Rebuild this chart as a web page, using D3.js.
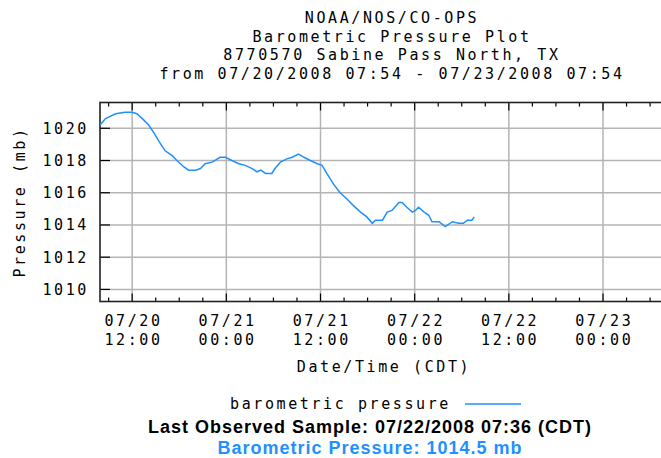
<!DOCTYPE html>
<html>
<head>
<meta charset="utf-8">
<script src="https://cdn.jsdelivr.net/npm/d3@7"></script>
<style>
  body { margin: 0; background: #fff; }
  .mono { font-family: "DejaVu Sans Mono", monospace; font-size: 15px; letter-spacing: 2.6px; fill: #000; }
  .info { font-family: "Liberation Sans", Arial, sans-serif; font-size: 18px; font-weight: bold; letter-spacing: 1px; }
</style>
</head>
<body>
<div id="chart"></div>
<script>
// observation times (2008, CDT) and barometric pressure in mb
var times = ["07/20 07:54","07/20 08:36","07/20 09:54","07/20 11:06","07/20 12:00","07/20 12:36",
  "07/20 13:18","07/20 14:06","07/20 14:48","07/20 15:24","07/20 16:12","07/20 17:06","07/20 17:42",
  "07/20 18:36","07/20 19:12","07/20 20:06","07/20 20:42","07/20 21:18","07/20 22:12","07/20 23:12",
  "07/20 23:54","07/21 00:42","07/21 01:36","07/21 02:24","07/21 03:18","07/21 03:54","07/21 04:24",
  "07/21 05:00","07/21 05:48","07/21 06:12","07/21 06:54","07/21 07:42","07/21 08:24","07/21 09:12",
  "07/21 09:54","07/21 10:42","07/21 11:36","07/21 12:12","07/21 12:48","07/21 13:42","07/21 14:30",
  "07/21 15:24","07/21 16:12","07/21 17:06","07/21 17:54","07/21 18:36","07/21 19:00","07/21 19:54",
  "07/21 20:30","07/21 21:06","07/21 22:00","07/21 22:24","07/21 23:00","07/21 23:42","07/22 00:06",
  "07/22 00:30","07/22 01:12","07/22 01:48","07/22 02:12","07/22 03:06","07/22 03:54","07/22 04:48",
  "07/22 05:36","07/22 06:12","07/22 06:42","07/22 07:18","07/22 07:36"];
var pressure = [1020.2,1020.6,1020.9,1021.0,1021.0,1020.9,
  1020.6,1020.2,1019.7,1019.2,1018.6,1018.3,1018.0,
  1017.6,1017.4,1017.4,1017.5,1017.8,1017.9,1018.2,
  1018.2,1018.0,1017.8,1017.7,1017.5,1017.3,1017.4,
  1017.2,1017.2,1017.5,1017.9,1018.1,1018.2,1018.4,
  1018.2,1018.0,1017.8,1017.7,1017.2,1016.5,1016.0,
  1015.6,1015.2,1014.8,1014.5,1014.1,1014.3,1014.3,
  1014.8,1014.9,1015.4,1015.4,1015.1,1014.8,1014.9,
  1015.1,1014.8,1014.6,1014.2,1014.2,1013.9,1014.2,
  1014.1,1014.1,1014.3,1014.3,1014.5];

var xTickLabels = ["07/20 12:00","07/21 00:00","07/21 12:00","07/22 00:00","07/22 12:00","07/23 00:00"];
var yTickValues = [1010, 1012, 1014, 1016, 1018, 1020];
var timeRange = ["07/20 07:54", "07/23 07:54"];

var titleLines = ["NOAA/NOS/CO-OPS", "Barometric Pressure Plot", "8770570 Sabine Pass North, TX",
  "from 07/20/2008 07:54 - 07/23/2008 07:54"];

var width = 661, height = 458;
var plotLeft = 100, plotRight = 665, plotTop = 102.5, plotBottom = 301.5;
var blue = "#1e90ff";

var parse = function(s) { return d3.timeParse("%m/%d/%Y %H:%M")(s.replace(" ", "/2008 ")); };
var data = times.map(function(t, i) { return {date: parse(t), value: pressure[i]}; });

var svg = d3.select("#chart").append("svg").attr("width", width).attr("height", height);

var x = d3.scaleTime().domain(timeRange.map(parse)).range([plotLeft, plotRight]);
var y = d3.scaleLinear().domain([1009.25, 1021.6]).range([plotBottom, plotTop]);

// title
svg.selectAll(".title").data(titleLines).enter().append("text")
    .attr("class", "mono title")
    .attr("x", 392)
    .attr("y", function(d, i) { return 23 + i * 18.6; })
    .attr("text-anchor", "middle")
    .text(function(d) { return d; });

// grid
var majors = xTickLabels.map(parse);
var minors = d3.timeHour.every(3).range(x.domain()[0], x.domain()[1]);

svg.selectAll(".vgrid").data(majors).enter().append("line")
    .attr("x1", function(d) { return x(d); }).attr("x2", function(d) { return x(d); })
    .attr("y1", plotTop).attr("y2", plotBottom)
    .attr("stroke", "#b4b4b4").attr("stroke-width", 1.5);

svg.selectAll(".hgrid").data(yTickValues).enter().append("line")
    .attr("x1", plotLeft).attr("x2", plotRight)
    .attr("y1", function(d) { return y(d); }).attr("y2", function(d) { return y(d); })
    .attr("stroke", "#b4b4b4").attr("stroke-width", 1.5);

// ticks (inside the frame)
svg.selectAll(".mtick").data(minors).enter().append("path")
    .attr("d", function(d) {
      var len = majors.some(function(m) { return +m === +d; }) ? 8 : 4;
      return "M" + x(d) + "," + plotTop + "v" + len + "M" + x(d) + "," + plotBottom + "v" + (-len);
    })
    .attr("stroke", "#000").attr("stroke-width", 1.2);

svg.selectAll(".ytick").data(yTickValues).enter().append("line")
    .attr("x1", plotLeft).attr("x2", plotLeft + 10)
    .attr("y1", function(d) { return y(d); }).attr("y2", function(d) { return y(d); })
    .attr("stroke", "#000").attr("stroke-width", 1.2);

// frame
svg.append("rect")
    .attr("x", plotLeft).attr("y", plotTop)
    .attr("width", plotRight - plotLeft).attr("height", plotBottom - plotTop)
    .attr("fill", "none").attr("stroke", "#222").attr("stroke-width", 1.6);

// y labels
svg.selectAll(".ylab").data(yTickValues).enter().append("text")
    .attr("class", "mono")
    .attr("x", 89)
    .attr("y", function(d) { return y(d) + 5.5; })
    .attr("text-anchor", "end")
    .text(function(d) { return d; });

svg.append("text")
    .attr("class", "mono")
    .attr("transform", "translate(25,202) rotate(-90)")
    .attr("text-anchor", "middle")
    .text("Pressure (mb)");

// x labels (two rows)
var fmtDay = d3.timeFormat("%m/%d"), fmtHour = d3.timeFormat("%H:%M");
var xl = svg.selectAll(".xlab").data(majors).enter().append("g");
xl.append("text").attr("class", "mono")
    .attr("x", function(d) { return x(d) + 1.3; }).attr("y", 326)
    .attr("text-anchor", "middle").text(fmtDay);
xl.append("text").attr("class", "mono")
    .attr("x", function(d) { return x(d) + 1.3; }).attr("y", 344.5)
    .attr("text-anchor", "middle").text(fmtHour);

svg.append("text")
    .attr("class", "mono")
    .attr("x", 384).attr("y", 371.5)
    .attr("text-anchor", "middle")
    .text("Date/Time (CDT)");

// data line
var line = d3.line()
    .x(function(d) { return x(d.date); })
    .y(function(d) { return y(d.value); });

svg.append("path")
    .datum(data)
    .attr("d", line)
    .attr("fill", "none")
    .attr("stroke", blue)
    .attr("stroke-width", 1.5);

// legend
svg.append("text")
    .attr("class", "mono")
    .attr("x", 230).attr("y", 408.5)
    .text("barometric pressure");
svg.append("line")
    .attr("x1", 465).attr("x2", 521)
    .attr("y1", 404).attr("y2", 404)
    .attr("stroke", blue).attr("stroke-width", 1.5);

// last sample info
svg.append("text")
    .attr("class", "info")
    .attr("x", 370).attr("y", 433)
    .attr("text-anchor", "middle")
    .attr("fill", "#000")
    .text("Last Observed Sample: 07/22/2008 07:36 (CDT)");
svg.append("text")
    .attr("class", "info")
    .attr("x", 370).attr("y", 454)
    .attr("text-anchor", "middle")
    .attr("fill", blue)
    .text("Barometric Pressure: " + pressure[pressure.length - 1] + " mb");
</script>
</body>
</html>
